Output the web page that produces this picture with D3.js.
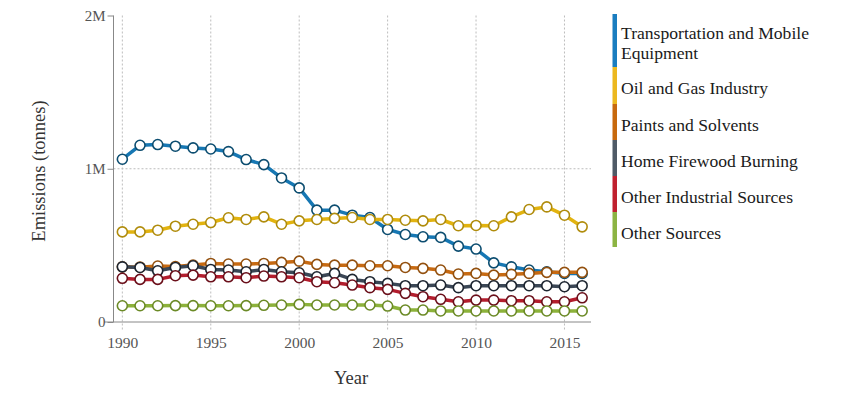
<!DOCTYPE html>
<html>
<head>
<meta charset="utf-8">
<script src="https://cdn.jsdelivr.net/npm/d3@7"></script>
<style>
  html, body { margin: 0; padding: 0; background: #fff; }
  svg { display: block; }
  text { font-family: "Liberation Serif", "Times New Roman", serif; }
</style>
</head>
<body>
<svg id="chart" width="850" height="396"></svg>
<script>
const years = d3.range(1990, 2017);
const seriesNames = [
  "Transportation and Mobile Equipment",
  "Oil and Gas Industry",
  "Paints and Solvents",
  "Home Firewood Burning",
  "Other Industrial Sources",
  "Other Sources"
];
const transportation = [1.062e6,1.153e6,1.158e6,1.147e6,1.136e6,1.129e6,1.112e6,1.060e6,1.027e6,0.940e6,0.875e6,0.730e6,0.730e6,0.697e6,0.682e6,0.604e6,0.571e6,0.556e6,0.552e6,0.495e6,0.476e6,0.386e6,0.360e6,0.339e6,0.328e6,0.317e6,0.317e6];
const oilGas = [0.588e6,0.588e6,0.599e6,0.625e6,0.638e6,0.649e6,0.680e6,0.669e6,0.686e6,0.638e6,0.660e6,0.669e6,0.676e6,0.682e6,0.669e6,0.669e6,0.664e6,0.660e6,0.669e6,0.628e6,0.630e6,0.628e6,0.686e6,0.734e6,0.751e6,0.697e6,0.621e6];
const paints = [0.360e6,0.358e6,0.365e6,0.362e6,0.372e6,0.382e6,0.378e6,0.378e6,0.382e6,0.389e6,0.397e6,0.376e6,0.371e6,0.371e6,0.367e6,0.367e6,0.356e6,0.350e6,0.339e6,0.313e6,0.317e6,0.306e6,0.311e6,0.317e6,0.324e6,0.324e6,0.324e6];
const firewood = [0.360e6,0.356e6,0.334e6,0.356e6,0.367e6,0.343e6,0.339e6,0.328e6,0.343e6,0.328e6,0.321e6,0.295e6,0.317e6,0.278e6,0.263e6,0.252e6,0.237e6,0.237e6,0.241e6,0.224e6,0.237e6,0.237e6,0.237e6,0.237e6,0.237e6,0.230e6,0.237e6];
const otherIndustrial = [0.285e6,0.278e6,0.278e6,0.302e6,0.306e6,0.295e6,0.295e6,0.289e6,0.300e6,0.295e6,0.289e6,0.263e6,0.256e6,0.241e6,0.224e6,0.213e6,0.187e6,0.165e6,0.148e6,0.132e6,0.143e6,0.143e6,0.139e6,0.139e6,0.132e6,0.132e6,0.158e6];
const otherSources = [0.106e6,0.106e6,0.106e6,0.107e6,0.107e6,0.106e6,0.106e6,0.107e6,0.109e6,0.111e6,0.115e6,0.111e6,0.111e6,0.111e6,0.111e6,0.104e6,0.078e6,0.078e6,0.072e6,0.072e6,0.072e6,0.072e6,0.072e6,0.072e6,0.072e6,0.072e6,0.072e6];
const seriesValues = [transportation, oilGas, paints, firewood, otherIndustrial, otherSources];
const xTickValues = [1990, 1995, 2000, 2005, 2010, 2015];
const yTickValues = [0, 1e6, 2e6];
const yTickLabels = ["0", "1M", "2M"];

const lineColors = ["#1677b3", "#e2b30f", "#c76a12", "#3a4655", "#b31d2d", "#8cb23a"];
const markerStroke = ["#0c4d70", "#b08c0c", "#93500e", "#1d2530", "#6a0f1a", "#6b8a26"];
const legendColors = ["#1a7dc0", "#ecb81f", "#c7690e", "#4f5a66", "#c0202f", "#8cb443"];

const svg = d3.select("#chart");
const x = d3.scaleLinear().domain([1989.5, 2016.5]).range([113.5, 591]);
const y = d3.scaleLinear().domain([0, 2e6]).range([322, 15.5]);

// gridlines
const grid = svg.append("g");
grid.selectAll("line.vg").data(xTickValues).join("line")
  .attr("x1", d => x(d)).attr("x2", d => x(d))
  .attr("y1", y(2e6)).attr("y2", 330)
  .attr("stroke", "#bdbdbd").attr("stroke-width", 1).attr("stroke-dasharray", "2,2");
grid.selectAll("line.hg").data([1e6]).join("line")
  .attr("x1", 113.5).attr("x2", 591)
  .attr("y1", d => y(d)).attr("y2", d => y(d))
  .attr("stroke", "#bdbdbd").attr("stroke-width", 1).attr("stroke-dasharray", "2,2");

// axes
const xAxis = d3.axisBottom(x).tickValues(xTickValues).tickFormat(d3.format("d")).tickSize(0).tickPadding(15);
const gx = svg.append("g").attr("transform", "translate(0,322)").call(xAxis);
gx.select(".domain").remove();
gx.append("line").attr("x1", 104).attr("x2", 591).attr("y1", 0).attr("y2", 0).attr("stroke", "#888");
gx.selectAll("text").attr("font-size", 15.5).attr("fill", "#555");

const yAxis = d3.axisLeft(y).tickValues(yTickValues).tickFormat((d, i) => yTickLabels[i]).tickSize(6).tickPadding(2);
const gy = svg.append("g").attr("transform", "translate(113.5,0)").call(yAxis);
gy.select(".domain").attr("stroke", "#888").attr("d", `M0,${y(2e6)}V322`);
gy.selectAll(".tick line").attr("stroke", "#888");
gy.selectAll("text").attr("font-size", 15).attr("fill", "#555");

// axis titles
svg.append("text").attr("x", 351).attr("y", 384).attr("text-anchor", "middle")
  .attr("font-size", 18.5).attr("fill", "#333").text("Year");
svg.append("text").attr("transform", "translate(45,171) rotate(-90)").attr("text-anchor", "middle")
  .attr("font-size", 18.5).attr("fill", "#333").text("Emissions (tonnes)");

// series
const line = d3.line().x((d, i) => x(years[i])).y(d => y(d));
seriesValues.forEach((vals, s) => {
  const g = svg.append("g");
  g.append("path").datum(vals).attr("d", line)
    .attr("fill", "none").attr("stroke", lineColors[s]).attr("stroke-width", 3.5)
    .attr("stroke-linejoin", "round");
  g.selectAll("circle").data(vals).join("circle")
    .attr("cx", (d, i) => x(years[i])).attr("cy", d => y(d)).attr("r", 5)
    .attr("fill", "#fff").attr("stroke", markerStroke[s]).attr("stroke-width", 1.6);
});

// legend
const legendTop = [14, 67, 104, 140, 176, 212];
const legendBottom = [67, 104, 140, 176, 212, 247];
const legendLines = [["Transportation and Mobile", "Equipment"], ["Oil and Gas Industry"], ["Paints and Solvents"], ["Home Firewood Burning"], ["Other Industrial Sources"], ["Other Sources"]];
const lg = svg.append("g");
seriesNames.forEach((name, i) => {
  lg.append("rect").attr("x", 612.5).attr("y", legendTop[i]).attr("width", 4.5)
    .attr("height", legendBottom[i] - legendTop[i]).attr("fill", legendColors[i]);
  legendLines[i].forEach((ln, j) => {
    lg.append("text").attr("x", 621)
      .attr("y", legendTop[i] + (legendLines[i].length > 1 ? 25 : 26.5) + j * 19.5)
      .attr("font-size", 17.6).attr("fill", "#1a1a1a").text(ln);
  });
});
</script>
</body>
</html>
